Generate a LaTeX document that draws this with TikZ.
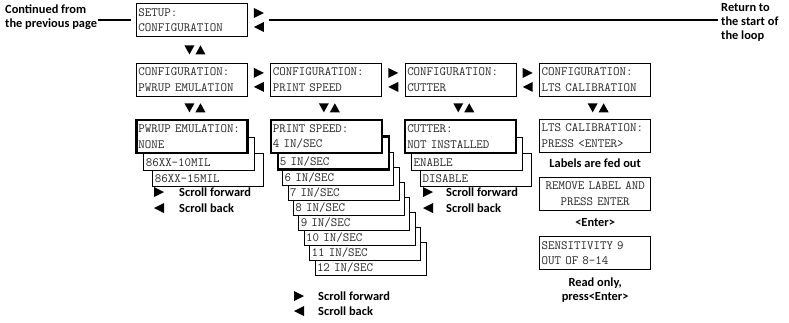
\documentclass[tikz,border=0pt]{standalone}
\usepackage{fontspec}
\newfontfamily\notefont{Carlito}
\usepackage{tikz}
\usetikzlibrary{positioning, backgrounds}

\begin{document}
\begin{tikzpicture}[
        x=1pt, y=-1pt,
        lcd/.style={draw, line width=0.9pt, fill=white, inner xsep=2pt, inner ysep=0pt,
            text width=107pt, minimum height=33pt, align=left, text=black!85,
            font=\ttfamily\fontsize{12.6}{15.5}\selectfont},
        sel/.style={lcd, line width=2.2pt},
        card/.style={lcd, anchor=south west},
        note/.style={font=\notefont\bfseries\fontsize{12.4}{14}\selectfont, inner sep=1pt, align=left},
        flow/.style={line width=2pt},
        fwd/.pic={\fill (-5,-5) -- (5,0) -- (-5,5) -- cycle;},
        bwd/.pic={\fill (5,-5) -- (-5,0) -- (5,5) -- cycle;},
        updn/.pic={\fill (-10.5,-4.5) -- (-0.5,-4.5) -- (-5.5,4.5) -- cycle;
            \fill (0.5,4.5) -- (10.5,4.5) -- (5.5,-4.5) -- cycle;},
        node distance=22pt and 22.5pt
        ]
        \useasboundingbox (0,0) rectangle (789,322);
        % top of the loop
        \node[lcd, anchor=north west] (setup) at (136,3) {SETUP:\\CONFIGURATION};
        \node[note, anchor=north west] (cont) at (4,4) {Continued from\\the previous page};
        \node[note, anchor=north west] (ret) at (720,2) {Return to\\the start of\\the loop};
        \draw[flow, shorten >=5pt] (cont.east |- setup.west) -- (setup.west);
        \draw[flow, shorten <=21pt, shorten >=2pt] (setup.east) -- (ret.west |- setup.east);
        % menu row
        \node[lcd, below=26pt of setup] (c1) {CONFIGURATION:\\PWRUP EMULATION};
        \node[lcd, right=of c1] (c2) {CONFIGURATION:\\PRINT SPEED};
        \node[lcd, right=of c2] (c3) {CONFIGURATION:\\CUTTER};
        \node[lcd, right=of c3] (c4) {CONFIGURATION:\\LTS CALIBRATION};
        \foreach \b in {setup,c1,c2,c3} {
            \pic at ([shift={(11,10)}]\b.north east) {fwd};
            \pic at ([shift={(11,24)}]\b.north east) {bwd};
        }
        \pic at ([shift={(3,13)}]setup.south) {updn};
        \foreach \b in {c1,c2,c3,c4}
            \pic at ([shift={(3,11)}]\b.south) {updn};
        % option lists
        \node[sel, below=of c1] (pw1) {PWRUP EMULATION:\\NONE};
        \node[sel, below=of c2] (ps4) {PRINT SPEED:\\4 IN/SEC};
        \node[sel, below=of c3] (ct1) {CUTTER:\\NOT INSTALLED};
        \begin{scope}[on background layer]
            \node[card] (pw3) at ([shift={(17,32.5)}]pw1.south west) {\strut\\86XX-15MIL};
            \node[card] (pw2) at ([shift={(8,16.5)}]pw1.south west) {\strut\\86XX-10MIL};
            \foreach \spd [evaluate=\spd as \k using int(\spd-5)] in {12,11,...,6}
                \node[card] (ps\spd) at ([shift={({7+5.4*\k},{16.5+15.1*\k})}]ps4.south west)
                    {\strut\\\spd{} IN/SEC};
            \node[card, line width=2.2pt] (ps5) at ([shift={(7,16.5)}]ps4.south west) {\strut\\5 IN/SEC};
            \node[card] (ct3) at ([shift={(16,32.5)}]ct1.south west) {\strut\\DISABLE};
            \node[card] (ct2) at ([shift={(7,16.5)}]ct1.south west) {\strut\\ENABLE};
        \end{scope}
        % legends
        \pic at (159,192) {fwd};
        \pic at (159,208) {bwd};
        \node[note, anchor=west] (fw1) at (178,192) {Scroll forward};
        \node[note, anchor=west] (bk1) at (178,208) {Scroll back};
        \pic at (299,296) {fwd};
        \pic at (299,311) {bwd};
        \node[note, anchor=west] (fw2) at (317,296) {Scroll forward};
        \node[note, anchor=west] (bk2) at (317,311) {Scroll back};
        \pic at (428,192) {fwd};
        \pic at (428,208) {bwd};
        \node[note, anchor=west] (fw3) at (445,192) {Scroll forward};
        \node[note, anchor=west] (bk3) at (445,208) {Scroll back};
        % calibration
        \node[lcd, below=of c4] (lts) {LTS CALIBRATION:\\PRESS <ENTER>};
        \node[note, below=5pt of lts] (fed) {Labels are fed out};
        \node[lcd, align=center, below=8pt of fed] (rem) {REMOVE LABEL AND\\PRESS ENTER};
        \node[note, below=6pt of rem] (ent) {<Enter>};
        \node[lcd, below=9pt of ent] (sens) {SENSITIVITY 9\\OUT OF 8-14};
        \node[note, align=center, below=6pt of sens] (ro) {Read only,\\press<Enter>};
\end{tikzpicture}
\end{document}
